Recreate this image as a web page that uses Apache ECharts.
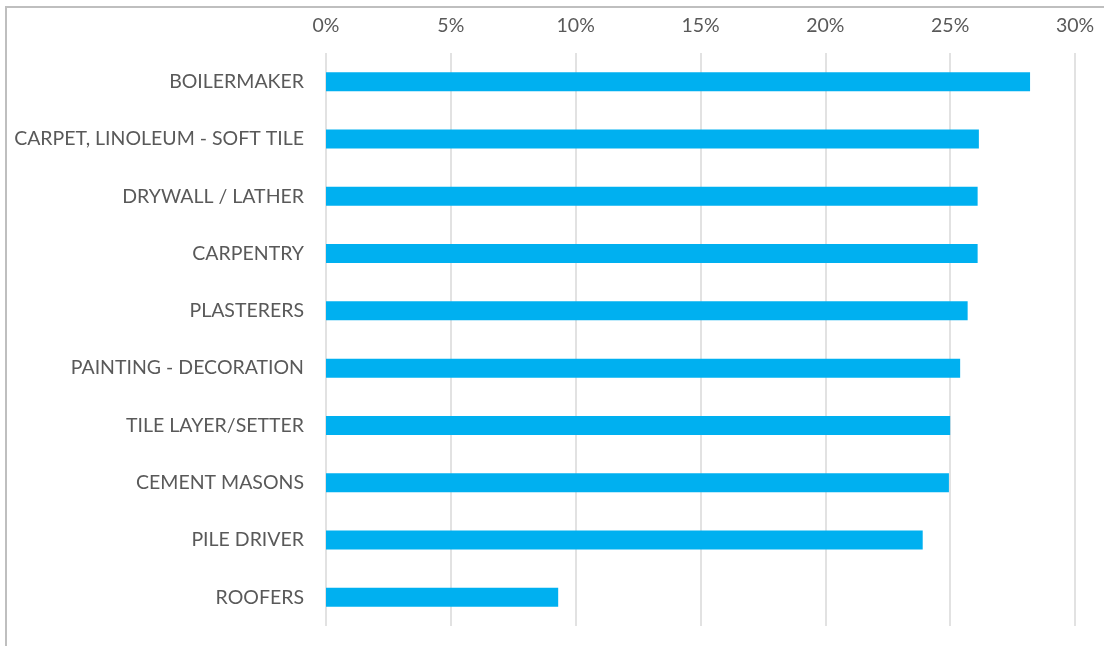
<!DOCTYPE html>
<html><head><meta charset="utf-8">
<script src="https://cdn.jsdelivr.net/npm/echarts@6/dist/echarts.min.js"></script>
<style>html,body{margin:0;padding:0;background:#fff}#c{width:1104px;height:646px}</style>
</head><body><div id="c"></div>
<script>
var categories = ["BOILERMAKER","CARPET, LINOLEUM - SOFT TILE","DRYWALL / LATHER","CARPENTRY","PLASTERERS","PAINTING - DECORATION","TILE LAYER/SETTER","CEMENT MASONS","PILE DRIVER","ROOFERS"];
var values = [28.2, 26.15, 26.1, 26.1, 25.7, 25.4, 25.0, 24.95, 23.9, 9.3];
var chart = echarts.init(document.getElementById('c'), null, {renderer:'canvas'});
var font = 'Lato';
chart.setOption({
  animation:false,
  backgroundColor:'#fff',
  graphic:[{type:'rect',shape:{x:6,y:7,width:1110,height:660},style:{fill:'none',stroke:'#bfbfbf',lineWidth:2},silent:true}],
  grid:{left:326,right:29,top:53,bottom:20,containLabel:false},
  xAxis:{type:'value',position:'top',min:0,max:30,interval:5,
    axisLabel:{formatter:'{value}%',color:'#595959',fontFamily:font,fontSize:19.5,margin:17},
    axisLine:{show:false},axisTick:{show:false},
    splitLine:{lineStyle:{color:'#d9d9d9',width:1.5}}},
  yAxis:{type:'category',inverse:true,data:categories,
    axisLabel:{color:'#595959',fontFamily:font,fontSize:19.5,margin:22},
    axisLine:{show:false},axisTick:{show:false}},
  series:[{type:'bar',data:values,barWidth:19,itemStyle:{color:'#00b0f0'}}]
});
</script></body></html>
